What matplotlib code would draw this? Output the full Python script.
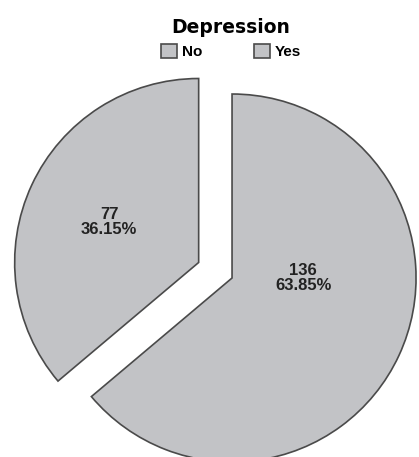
import matplotlib.pyplot as plt

labels = ['No', 'Yes']
counts = [136, 77]
explode = [0, 0.2]
# where each count/percent label sits, in pie radius units
label_pos = [(0.386, 0.0), (-0.668, 0.305)]

fill = '#c2c3c6'
edge = '#4a4a4a'

fig = plt.figure(figsize=(4.19, 4.57), dpi=100)
ax = fig.add_axes([0, 0, 1, 1])

wedges, _ = ax.pie(counts, explode=explode, startangle=90, counterclock=False,
                   colors=[fill, fill],
                   wedgeprops=dict(edgecolor=edge, linewidth=1.2))

total = sum(counts)
for n, (x, y) in zip(counts, label_pos):
    ax.text(x, y, f'{n}\n{n / total * 100:.2f}%', ha='center', va='center',
            fontsize=12, fontweight='bold', family='Liberation Sans',
            linespacing=0.95, color='#222222')

ax.set_xlim(-1.261, 1.016)
ax.set_ylim(-0.973, 1.511)
ax.set_aspect('auto')
ax.axis('off')

leg = fig.legend(wedges, labels, loc='upper center',
                 bbox_to_anchor=(231 / 419, 1 - 10 / 457),
                 ncol=2, frameon=False, borderpad=0,
                 handlelength=1.05, handleheight=1.05, handletextpad=0.3,
                 columnspacing=3.4,
                 prop=dict(family='Liberation Sans', weight='bold', size=11),
                 title='Depression',
                 title_fontproperties=dict(family='DejaVu Sans', weight='bold', size=13.5))
leg._legend_box.sep = 5

fig.savefig('out.png', dpi=100)
